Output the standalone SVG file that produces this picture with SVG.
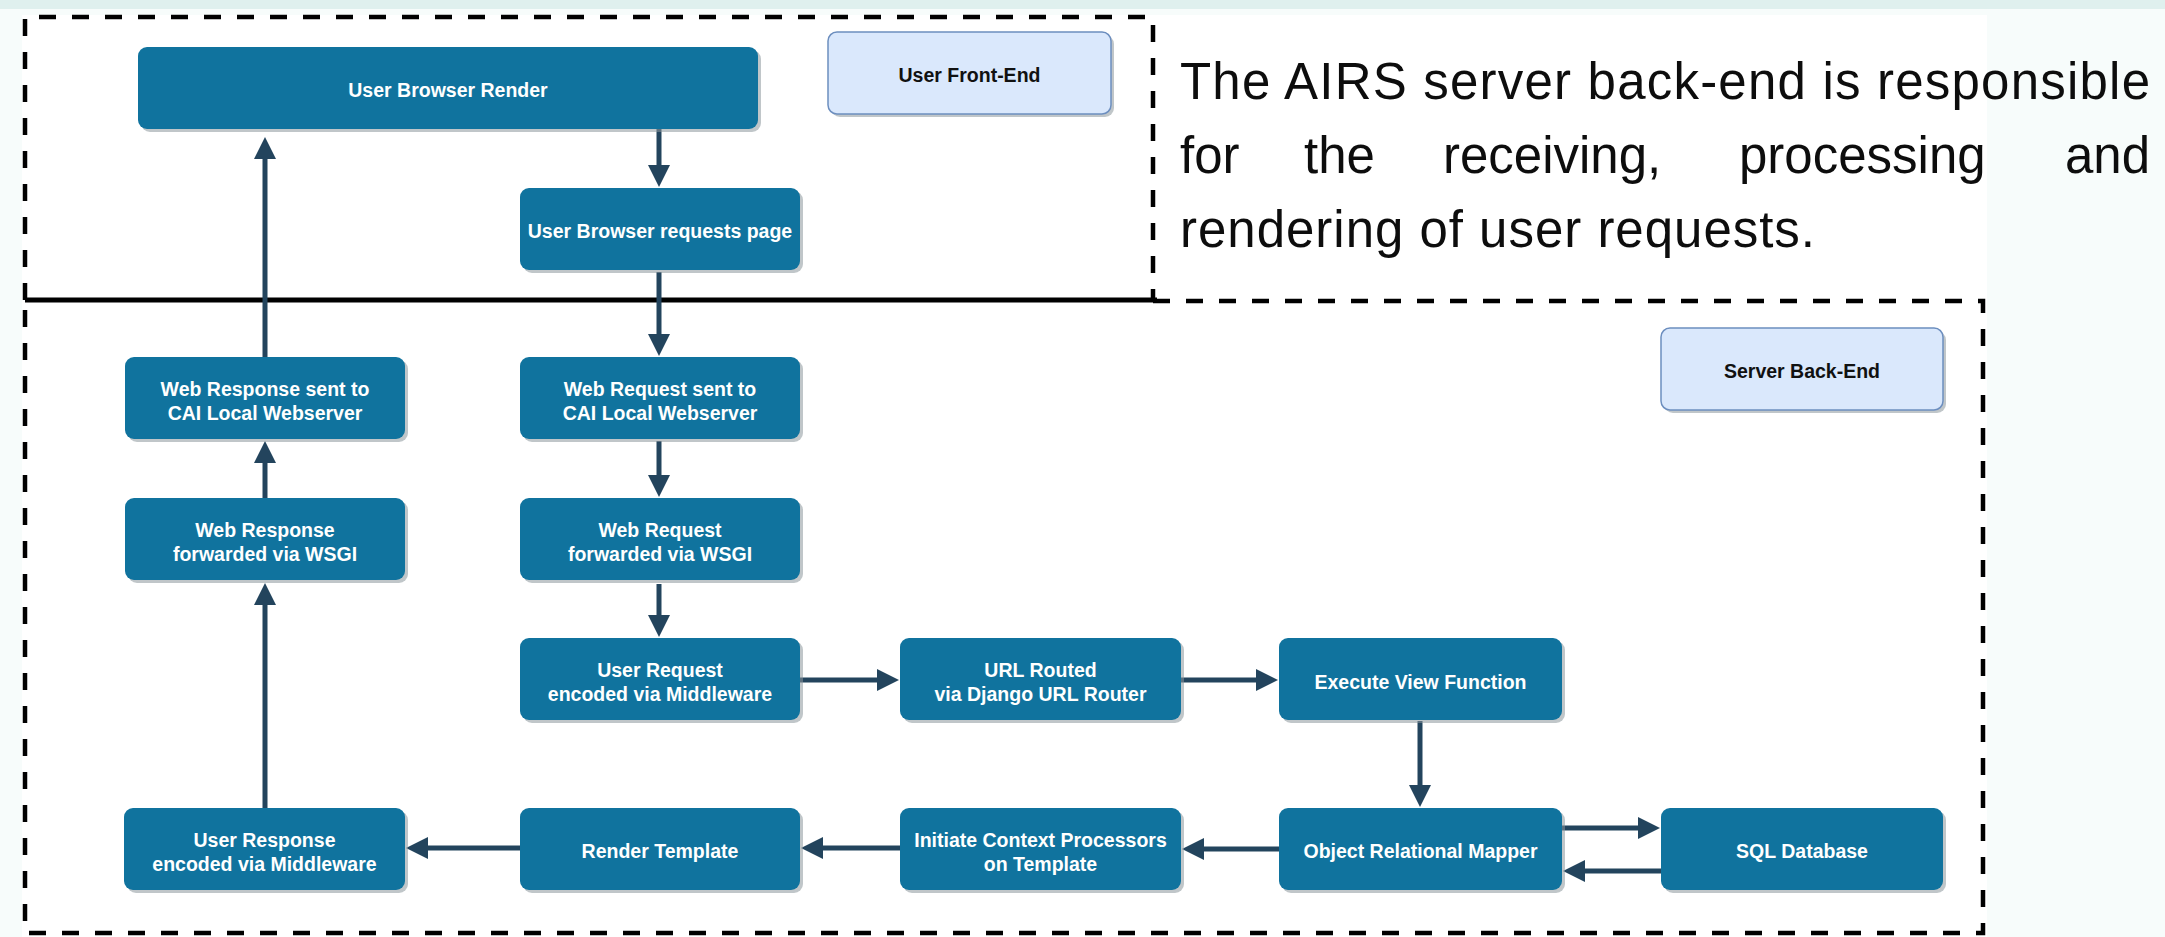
<svg xmlns="http://www.w3.org/2000/svg" width="2165" height="937" viewBox="0 0 2165 937">
<style>
.node{fill:#10739E}
.shadow{fill:#8c979d;opacity:0.55}
.note{fill:#dae8fc;stroke:#6c8ebf;stroke-width:1.5}
.nt{font-family:"Liberation Sans",Arial,sans-serif;font-weight:bold;font-size:19.5px;fill:#ffffff;text-anchor:middle}
.lt{font-family:"Liberation Sans",Arial,sans-serif;font-weight:bold;font-size:19.5px;fill:#111111;text-anchor:middle}
.para{font-family:"Liberation Sans",Arial,sans-serif;font-size:51px;fill:#0d0d0d}
.conn{stroke:#23445D;stroke-width:5;fill:none;marker-end:url(#ah)}
.dash{stroke:#000;stroke-width:4.5;fill:none;stroke-dasharray:17 16}
</style>
<defs>
<marker id="ah" markerUnits="userSpaceOnUse" viewBox="0 0 22 22" markerWidth="22" markerHeight="22" refX="4" refY="11" orient="auto">
<path d="M0,0 L22,11 L0,22 z" fill="#23445D"/>
</marker>
</defs>
<rect x="0" y="0" width="2165" height="937" fill="#f7fcfb"/>
<rect x="0" y="0" width="2165" height="9" fill="#dff0ee"/>
<rect x="22" y="15" width="1965" height="922" fill="#ffffff"/>

<g id="containers">
<path class="dash" d="M25,300 L25,17 L1153,17 L1153,300"/>
<path class="dash" d="M1153,301 L1983,301 L1983,933 L25,933 L25,300"/>
<line x1="25" y1="300" x2="1157" y2="300" stroke="#000" stroke-width="5"/>
</g>

<g id="label-frontend">
<rect class="shadow" x="831" y="35" width="283" height="82" rx="9"/>
<rect class="note" x="828" y="32" width="283" height="82" rx="9"/>
<text class="lt" x="969.5" y="82">User Front-End</text>
</g>
<g id="label-backend">
<rect class="shadow" x="1664" y="331" width="282" height="82" rx="9"/>
<rect class="note" x="1661" y="328" width="282" height="82" rx="9"/>
<text class="lt" x="1802" y="378">Server Back-End</text>
</g>

<g id="connectors">
<line class="conn" x1="659" y1="129" x2="659" y2="169"/>
<line class="conn" x1="659" y1="272" x2="659" y2="338"/>
<line class="conn" x1="659" y1="441" x2="659" y2="479"/>
<line class="conn" x1="659" y1="584" x2="659" y2="619"/>
<line class="conn" x1="800" y1="680" x2="881" y2="680"/>
<line class="conn" x1="1181" y1="680" x2="1260" y2="680"/>
<line class="conn" x1="1420" y1="721" x2="1420" y2="789"/>
<line class="conn" x1="1562" y1="828" x2="1642" y2="828"/>
<line class="conn" x1="1661" y1="871" x2="1581" y2="871"/>
<line class="conn" x1="1279" y1="849" x2="1200" y2="849"/>
<line class="conn" x1="900" y1="848" x2="819" y2="848"/>
<line class="conn" x1="520" y1="848" x2="424" y2="848"/>
<line class="conn" x1="265" y1="808" x2="265" y2="601"/>
<line class="conn" x1="265" y1="498" x2="265" y2="459"/>
<line class="conn" x1="265" y1="357" x2="265" y2="155"/>
</g>

<g id="n-browser-render">
<rect class="shadow" x="141" y="50" width="620" height="82" rx="9"/>
<rect class="node" x="138" y="47" width="620" height="82" rx="9"/>
<text class="nt" x="448" y="97">User Browser Render</text>
</g>
<g id="n-browser-request">
<rect class="shadow" x="523" y="191" width="280" height="82" rx="9"/>
<rect class="node" x="520" y="188" width="280" height="82" rx="9"/>
<text class="nt" x="660" y="238">User Browser requests page</text>
</g>
<g id="n-web-response-sent">
<rect class="shadow" x="128" y="360" width="280" height="82" rx="9"/>
<rect class="node" x="125" y="357" width="280" height="82" rx="9"/>
<text class="nt" x="265" y="396">Web Response sent to</text>
<text class="nt" x="265" y="420">CAI Local Webserver</text>
</g>
<g id="n-web-request-sent">
<rect class="shadow" x="523" y="360" width="280" height="82" rx="9"/>
<rect class="node" x="520" y="357" width="280" height="82" rx="9"/>
<text class="nt" x="660" y="396">Web Request sent to</text>
<text class="nt" x="660" y="420">CAI Local Webserver</text>
</g>
<g id="n-web-response-fwd">
<rect class="shadow" x="128" y="501" width="280" height="82" rx="9"/>
<rect class="node" x="125" y="498" width="280" height="82" rx="9"/>
<text class="nt" x="265" y="537">Web Response</text>
<text class="nt" x="265" y="561">forwarded via WSGI</text>
</g>
<g id="n-web-request-fwd">
<rect class="shadow" x="523" y="501" width="280" height="82" rx="9"/>
<rect class="node" x="520" y="498" width="280" height="82" rx="9"/>
<text class="nt" x="660" y="537">Web Request</text>
<text class="nt" x="660" y="561">forwarded via WSGI</text>
</g>
<g id="n-user-request-enc">
<rect class="shadow" x="523" y="641" width="280" height="82" rx="9"/>
<rect class="node" x="520" y="638" width="280" height="82" rx="9"/>
<text class="nt" x="660" y="677">User Request</text>
<text class="nt" x="660" y="701">encoded via Middleware</text>
</g>
<g id="n-url-routed">
<rect class="shadow" x="903" y="641" width="281" height="82" rx="9"/>
<rect class="node" x="900" y="638" width="281" height="82" rx="9"/>
<text class="nt" x="1040.5" y="677">URL Routed</text>
<text class="nt" x="1040.5" y="701">via Django URL Router</text>
</g>
<g id="n-execute-view">
<rect class="shadow" x="1282" y="641" width="283" height="82" rx="9"/>
<rect class="node" x="1279" y="638" width="283" height="82" rx="9"/>
<text class="nt" x="1420.5" y="689">Execute View Function</text>
</g>
<g id="n-user-response-enc">
<rect class="shadow" x="127" y="811" width="281" height="82" rx="9"/>
<rect class="node" x="124" y="808" width="281" height="82" rx="9"/>
<text class="nt" x="264.5" y="847">User Response</text>
<text class="nt" x="264.5" y="871">encoded via Middleware</text>
</g>
<g id="n-render-template">
<rect class="shadow" x="523" y="811" width="280" height="82" rx="9"/>
<rect class="node" x="520" y="808" width="280" height="82" rx="9"/>
<text class="nt" x="660" y="858">Render Template</text>
</g>
<g id="n-context-processors">
<rect class="shadow" x="903" y="811" width="281" height="82" rx="9"/>
<rect class="node" x="900" y="808" width="281" height="82" rx="9"/>
<text class="nt" x="1040.5" y="847">Initiate Context Processors</text>
<text class="nt" x="1040.5" y="871">on Template</text>
</g>
<g id="n-orm">
<rect class="shadow" x="1282" y="811" width="283" height="82" rx="9"/>
<rect class="node" x="1279" y="808" width="283" height="82" rx="9"/>
<text class="nt" x="1420.5" y="858">Object Relational Mapper</text>
</g>
<g id="n-sql">
<rect class="shadow" x="1664" y="811" width="282" height="82" rx="9"/>
<rect class="node" x="1661" y="808" width="282" height="82" rx="9"/>
<text class="nt" x="1802" y="858">SQL Database</text>
</g>

<g id="description">
<text class="para" x="1180" y="99" textLength="970" lengthAdjust="spacing">The AIRS server back-end is responsible</text>
<text class="para" x="1180" y="173">for</text>
<text class="para" x="1304" y="173">the</text>
<text class="para" x="1443" y="173">receiving,</text>
<text class="para" x="1739" y="173">processing</text>
<text class="para" x="2150" y="173" text-anchor="end">and</text>
<text class="para" x="1180" y="247" textLength="635" lengthAdjust="spacing">rendering of user requests.</text>
</g>
</svg>
